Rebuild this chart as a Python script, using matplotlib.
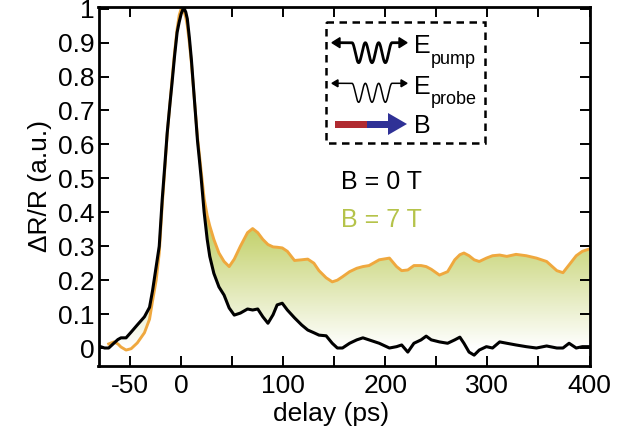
"""Pump-probe transient reflectivity at B = 0 T and B = 7 T."""
import matplotlib
matplotlib.use("Agg")
import matplotlib.pyplot as plt
import numpy as np
from matplotlib.colors import LinearSegmentedColormap
from matplotlib.patches import Polygon, Rectangle

plt.rcParams["font.family"] = ["Liberation Sans", "DejaVu Sans"]

# delay grid (ps) shared by both traces
delay = [-71, -66, -62, -59, -54, -49, -43, -36, -31, -28, -24.5, -21.5, -18.6,
         -16, -13.7, -11, -9, -6.5, -4, -2, 0, 1.5, 3, 4.5, 6, 8, 10, 11.5, 13,
         14.5, 16, 18, 19.6, 22.5, 25.5, 28, 32, 37, 42,
         47, 52, 58, 65, 70, 75, 80, 85, 90, 94, 99, 104, 111, 118, 124, 130,
         135, 142, 148, 153, 158, 165, 172, 178, 184, 194, 204, 211, 216, 222,
         228, 235, 240, 245, 253, 261, 268, 273, 277, 282, 287, 292, 299, 305,
         312, 319, 328, 338, 348, 358, 368, 374, 380, 387, 393, 400]

# B = 0 T (black); first two points before the 7 T trace starts
delay_pre = [-80, -75]
dr_0T_pre = [0.005, 0.0]
dr_0T = [0.0, 0.014, 0.025, 0.03, 0.03, 0.047, 0.068, 0.092, 0.12, 0.17, 0.24,
         0.30, 0.437, 0.54, 0.634, 0.72, 0.78, 0.86, 0.93, 0.96, 0.985, 0.997,
         1.0, 0.99, 0.97, 0.915, 0.85, 0.79, 0.73, 0.67, 0.61, 0.55,
         0.50, 0.40, 0.32, 0.27, 0.22, 0.18, 0.156, 0.118, 0.097, 0.103, 0.115,
         0.112, 0.115, 0.092, 0.073, 0.098, 0.127, 0.132, 0.112, 0.089, 0.068,
         0.053, 0.045, 0.038, 0.036, 0.014, 0.0, 0.0, 0.014, 0.024, 0.03, 0.024,
         0.014, 0.0, 0.004, 0.009, -0.012, 0.014, 0.024, 0.035, 0.024, 0.018,
         0.014, 0.024, 0.032, 0.014, -0.012, -0.021, -0.006, 0.004, 0.0, 0.018,
         0.014, 0.009, 0.004, 0.0, 0.006, 0.0, 0.0, 0.014, 0.0, 0.004, 0.004]

# B = 7 T (orange)
dr_7T = [0.012, 0.018, 0.012, 0.003, -0.006, -0.002, 0.015, 0.045, 0.085, 0.14,
         0.20, 0.28, 0.42, 0.53, 0.63, 0.72, 0.79, 0.87, 0.94, 0.98, 1.0, 0.998,
         0.99, 0.975, 0.95, 0.90, 0.84, 0.785, 0.73, 0.675, 0.62, 0.565,
         0.52, 0.44, 0.39, 0.36, 0.32, 0.28, 0.255, 0.24, 0.262, 0.30, 0.34,
         0.352, 0.34, 0.32, 0.305, 0.298, 0.297, 0.295, 0.285, 0.258, 0.26,
         0.262, 0.25, 0.228, 0.207, 0.195, 0.2, 0.21, 0.225, 0.235, 0.24, 0.243,
         0.26, 0.265, 0.24, 0.228, 0.23, 0.243, 0.243, 0.24, 0.232, 0.215, 0.225,
         0.26, 0.275, 0.28, 0.272, 0.26, 0.255, 0.265, 0.272, 0.274, 0.27, 0.276,
         0.272, 0.265, 0.255, 0.228, 0.222, 0.245, 0.272, 0.285, 0.292]

xticks = [-50, 0, 50, 100, 150, 200, 250, 300, 350, 400]
xtick_labels = ["-50", "0", "", "100", "", "200", "", "300", "", "400"]
yticks = [0, 0.1, 0.2, 0.3, 0.4, 0.5, 0.6, 0.7, 0.8, 0.9, 1.0]

C_ORANGE = "#efa83e"
C_GREEN_TXT = "#b5c34a"
C_FILL = "#c2d068"

W, H = 635, 429
fig = plt.figure(figsize=(W / 100, H / 100), dpi=100)
ax = fig.add_axes([98.5 / W, 1 - 366 / H, 491 / W, 359 / H])

# gradient fill between the two traces
x = np.array(delay)
poly_xy = np.vstack([np.column_stack([x, dr_7T]),
                     np.column_stack([x[::-1], np.array(dr_0T)[::-1]])])
clip = Polygon(poly_xy, closed=True, facecolor="none", edgecolor="none",
               transform=ax.transData)
ax.add_patch(clip)
cmap = LinearSegmentedColormap.from_list("fade", ["#ffffff", C_FILL])
grad = np.clip(np.linspace(-0.05, 0.5, 200) / 0.36, 0, 1)[:, None]
im = ax.imshow(grad, extent=(-81, 400, -0.05, 0.5), origin="lower",
               aspect="auto", cmap=cmap, vmin=0, vmax=1, zorder=1)
im.set_clip_path(clip)

ax.plot(delay, dr_7T, color=C_ORANGE, lw=2.1, zorder=2,
        solid_joinstyle="round")
ax.plot(delay_pre + delay, dr_0T_pre + dr_0T, color="black", lw=2.2, zorder=3,
        solid_joinstyle="round")

ax.set_xlim(-81, 400)
ax.set_ylim(-0.053, 1.005)
ax.set_xticks(xticks)
ax.set_xticklabels(xtick_labels)
ax.set_yticks(yticks)
ax.set_yticklabels([f"{v:g}" for v in yticks])
ax.tick_params(direction="in", length=7, width=1.4, labelsize=19,
               top=True, right=True)
ax.tick_params(axis="x", pad=6)
ax.tick_params(axis="y", pad=3)
for sp in ax.spines.values():
    sp.set_linewidth(2)
ax.set_xlabel("delay (ps)", fontsize=19, labelpad=0)
ax.xaxis.set_label_coords(0.473, -0.1, transform=ax.transAxes)
ax.set_ylabel("ΔR/R (a.u.)", fontsize=19, labelpad=4)

ax.text(157, 0.469, "B = 0 T", fontsize=18, color="black")
ax.text(157, 0.357, "B = 7 T", fontsize=18, color=C_GREEN_TXT)

# schematic inset drawn in figure pixel coordinates
ov = fig.add_axes([0, 0, 1, 1])
ov.set_xlim(0, W)
ov.set_ylim(H, 0)
ov.axis("off")
ov.add_patch(Rectangle((326, 21.7), 159, 121.3, fill=False, ls=(0, (3, 2.2)),
                       lw=1.8, ec="black"))


def wave_arrow(y0, depth, lw, head_len, head_w):
    t = np.linspace(0, 1, 300)
    wx = 352 + 40 * t
    wy = y0 + depth * (1 - np.cos(2 * np.pi * 3 * t)) / 2
    xs = np.concatenate([[332 + head_len], wx, [407 - head_len]])
    ys = np.concatenate([[y0], wy, [y0]])
    ov.plot(xs, ys, color="black", lw=lw, solid_capstyle="butt")
    ov.add_patch(Polygon([(332, y0), (332 + head_len, y0 - head_w),
                          (332 + head_len, y0 + head_w)], color="black"))
    ov.add_patch(Polygon([(407, y0), (407 - head_len, y0 - head_w),
                          (407 - head_len, y0 + head_w)], color="black"))


wave_arrow(42.7, 20, 2.0, 8, 5)
wave_arrow(83.3, 19, 1.1, 6, 3.5)

ov.add_patch(Rectangle((335, 120.5), 32, 7, color="#b02a30", lw=0))
ov.add_patch(Rectangle((367, 120.5), 22, 7, color="#2f3196", lw=0))
ov.add_patch(Polygon([(388, 113), (407, 124), (388, 135)], color="#2f3196",
                     lw=0))

ov.text(414, 53.3, "E", fontsize=18, va="baseline")
ov.text(431, 63.5, "pump", fontsize=13, va="baseline")
ov.text(414, 94, "E", fontsize=18, va="baseline")
ov.text(431, 103.5, "probe", fontsize=13, va="baseline")
ov.text(414, 133.3, "B", fontsize=18, va="baseline")

fig.savefig("out.png", dpi=100)
